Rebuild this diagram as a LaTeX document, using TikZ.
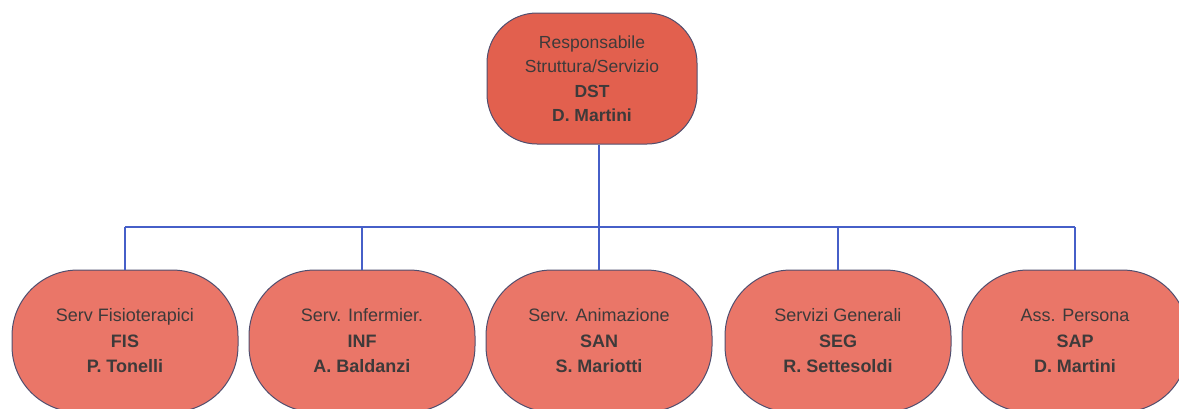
\documentclass[tikz,border=0pt]{standalone}
\usepackage{fontspec}
\setmainfont{Liberation Sans}
\definecolor{topfill}{RGB}{226,96,78}
\definecolor{boxfill}{RGB}{234,118,104}
\definecolor{boxedge}{RGB}{80,78,110}
\definecolor{linkblue}{RGB}{70,95,200}
\definecolor{txt}{RGB}{62,58,58}
\begin{document}
\begin{tikzpicture}[x=1pt,y=-1pt,
  unit/.style={draw=boxedge, line width=1pt, fill=boxfill, rectangle,
    rounded corners=66pt, minimum width=226pt, minimum height=142pt,
    align=center, text=txt, font=\fontsize{18}{25.5}\selectfont, inner sep=0pt},
  head/.style={unit, fill=topfill, rounded corners=50pt, minimum width=210pt,
    minimum height=131pt, font=\fontsize{17.5}{24.5}\selectfont},
  link/.style={draw=linkblue, line width=1.2pt}]
\useasboundingbox (0,0) rectangle (1179,408);
\clip (0,0) rectangle (1179,408);
\node[head] (top) at (592,78.5) {Responsabile\\Struttura/Servizio\\\textbf{DST}\\\textbf{D. Martini}};
\node[unit] (fis) at (125,341) {Serv Fisioterapici\\\textbf{FIS}\\\textbf{P. Tonelli}};
\node[unit] (inf) at (362,341) {Serv. Infermier.\\\textbf{INF}\\\textbf{A. Baldanzi}};
\node[unit] (san) at (599,341) {Serv. Animazione\\\textbf{SAN}\\\textbf{S. Mariotti}};
\node[unit] (seg) at (838,341) {Servizi Generali\\\textbf{SEG}\\\textbf{R. Settesoldi}};
\node[unit] (sap) at (1075,341) {Ass. Persona\\\textbf{SAP}\\\textbf{D. Martini}};
\coordinate (busl) at (125,227);
\coordinate (busr) at (1075,227);
\draw[link] (top.south -| san.north) -- (san.north);
\draw[link] (busl) -- (busr);
\draw[link] (busl) -- (fis.north);
\draw[link] (inf.north |- busl) -- (inf.north);
\draw[link] (seg.north |- busl) -- (seg.north);
\draw[link] (busr) -- (sap.north);
\end{tikzpicture}
\end{document}
